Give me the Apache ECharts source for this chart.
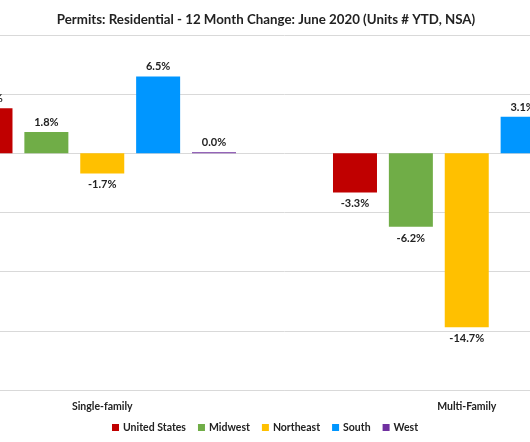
<!DOCTYPE html>
<html><head><meta charset="utf-8">
<script src="https://cdn.jsdelivr.net/npm/echarts@6/dist/echarts.min.js"></script>
<style>html,body{margin:0;padding:0;background:#fff;overflow:hidden;width:530px;height:442px}#c{position:absolute;left:-80px;top:0;width:729px;height:442px}</style>
</head><body><div id="c"></div>
<script>
const categories = ['Single-family', 'Multi-Family'];
const seriesNames = ['United States', 'Midwest', 'Northeast', 'South', 'West'];
const usValues = [3.8, -3.3];
const midwestValues = [1.8, -6.2];
const northeastValues = [-1.7, -14.7];
const southValues = [6.5, 3.1];
const westValues = [0.0, 5.0];
const colors = ['#C00000', '#70AD47', '#FFC000', '#0096FF', '#7030A0'];
const yTicks = { min: -20, max: 10, interval: 5 };

const allValues = [usValues, midwestValues, northeastValues, southValues, westValues];
const FONT = 'Lato';
const OFFSET = 80; // page x = canvas x - OFFSET
const chart = echarts.init(document.getElementById('c'));
chart.setOption({
  animation: false,
  title: {
    text: 'Permits: Residential - 12 Month Change: June 2020 (Units # YTD, NSA)',
    left: 261 + OFFSET, top: 8, textAlign: 'center',
    textStyle: { fontFamily: FONT, fontSize: 13.3, fontWeight: 'bold', color: '#222' }
  },
  legend: {
    data: seriesNames, bottom: 9, left: 112 + OFFSET, padding: 0,
    icon: 'rect', itemWidth: 7, itemHeight: 7, itemGap: 12,
    textStyle: { fontFamily: FONT, fontSize: 10.5, fontWeight: 'bold', color: '#222', padding: [0, 0, 0, -1] }
  },
  grid: { left: 0, right: 0, top: 35, bottom: 52, containLabel: false },
  xAxis: {
    type: 'category', data: categories,
    axisLine: { onZero: false, lineStyle: { color: '#d9d9d9' } },
    axisTick: { show: false },
    axisLabel: { margin: 11, fontFamily: FONT, fontSize: 10.5, fontWeight: 'bold', color: '#222' }
  },
  yAxis: {
    type: 'value', min: yTicks.min, max: yTicks.max, interval: yTicks.interval,
    axisLabel: { show: false }, axisLine: { show: false }, axisTick: { show: false },
    splitLine: { lineStyle: { color: '#d9d9d9' } }
  },
  series: seriesNames.map((name, i) => ({
    name, type: 'bar', barWidth: 44, barGap: '27%', barMinHeight: 1,
    itemStyle: { color: colors[i] },
    label: {
      show: true, fontFamily: FONT, fontSize: 11, fontWeight: 'bold', color: '#222',
      formatter: p => p.value.toFixed(1) + '%'
    },
    data: allValues[i].map(v => ({
      value: v,
      label: { position: v < 0 ? 'bottom' : 'top', distance: v < 0 ? 6 : 4 }
    }))
  }))
});
</script></body></html>
